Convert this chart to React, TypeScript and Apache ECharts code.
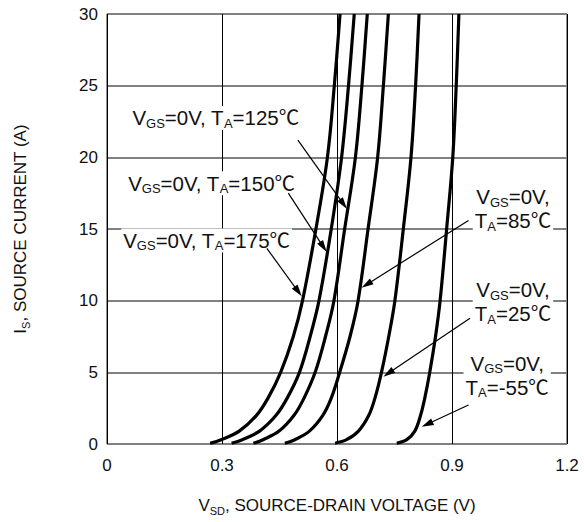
import React, { useEffect, useRef } from 'react';
import * as echarts from 'echarts';

// Source current levels (A) shared by all curves
const currentLevels = [0.05, 0.3, 0.9, 2, 3.2, 5, 7.5, 10, 15, 20, 25, 30];
// Source-drain voltage (V) for each temperature at the levels above
const v175 = [0.269, 0.298, 0.345, 0.39, 0.42, 0.453, 0.486, 0.51, 0.545, 0.575, 0.593, 0.608];
const v150 = [0.325, 0.353, 0.398, 0.441, 0.47, 0.502, 0.53, 0.553, 0.585, 0.612, 0.63, 0.645];
const v125 = [0.382, 0.407, 0.449, 0.488, 0.514, 0.543, 0.57, 0.592, 0.62, 0.648, 0.665, 0.679];
const v85 = [0.464, 0.49, 0.528, 0.563, 0.585, 0.607, 0.634, 0.655, 0.681, 0.706, 0.721, 0.734];
const v25 = [0.595, 0.625, 0.656, 0.683, 0.699, 0.716, 0.735, 0.751, 0.773, 0.793, 0.805, 0.814];
const vM55 = [0.756, 0.782, 0.803, 0.818, 0.829, 0.842, 0.857, 0.869, 0.886, 0.902, 0.911, 0.918];

const temps = ['175', '150', '125', '85', '25', '-55'];
const voltages = [v175, v150, v125, v85, v25, vM55];

// Annotation anchors in data coordinates
const leftLabelTemps = ['125', '150', '175'];
const leftLabelAnchors = [[0.061, 22.75], [0.05, 18.2], [0.037, 14.2]];
const rightLabelTemps = ['85', '25', '-55'];
const rightLabelAnchors = [[1.059, 16.4], [1.059, 9.94], [1.044, 4.78]];
const arrowStarts = [[0.498, 21.2], [0.473, 17.5], [0.417, 13.65], [0.943, 15.6], [0.947, 8.77], [0.943, 2.72]];
const arrowTips = [[0.626, 16.4], [0.573, 13.4], [0.508, 10.3], [0.664, 10.9], [0.721, 4.7], [0.821, 1.2]];

const xTicks = { min: 0, max: 1.2, interval: 0.3 };
const yTicks = { min: 0, max: 30, interval: 5 };

const FF = "'Liberation Sans', Arial, 'Noto Sans CJK JP', sans-serif";
const TXT = '#111';

const annRich = {
  n: { fontSize: 20.5, fontFamily: FF, fill: TXT, lineHeight: 24 },
  s: { fontSize: 13, fontFamily: FF, fill: TXT, lineHeight: 10, verticalAlign: 'bottom' },
};

export default function App() {
  const ref = useRef<HTMLDivElement>(null);
  useEffect(() => {
    document.body.style.margin = '0';
    if (!ref.current) return;
    const chart = echarts.init(ref.current, null, { renderer: 'svg' });
    const series = temps.map((t, i) => ({
      name: t,
      type: 'line',
      data: voltages[i].map((v, k) => [v, currentLevels[k]]),
      showSymbol: false,
      smooth: 0.35,
      lineStyle: { color: '#000', width: 3.2 },
      silent: true,
      z: 3,
    }));
    chart.setOption({
      animation: false,
      grid: { left: 107, right: 17, top: 14, bottom: 78, show: true, borderColor: '#222', borderWidth: 1 },
      xAxis: {
        type: 'value',
        ...xTicks,
        axisLine: { show: false },
        axisTick: { show: false },
        axisLabel: { fontSize: 17, fontFamily: FF, color: TXT, margin: 13 },
        splitLine: { show: true, lineStyle: { color: '#000', width: 1 } },
        name: '{n|V}{s|SD}{n|, SOURCE-DRAIN VOLTAGE (V)}',
        nameLocation: 'middle',
        nameGap: 50,
        nameTextStyle: {
          rich: {
            n: { fontSize: 17, fontFamily: FF, color: TXT, lineHeight: 22 },
            s: { fontSize: 11, fontFamily: FF, color: TXT, lineHeight: 8, verticalAlign: 'bottom' },
          },
        },
      },
      yAxis: {
        type: 'value',
        ...yTicks,
        axisLine: { show: false },
        axisTick: { show: false },
        axisLabel: { fontSize: 17, fontFamily: FF, color: TXT, margin: 9 },
        splitLine: { show: true, lineStyle: { color: '#808080', width: 2 } },
        name: '{n|I}{s|S}{n|, SOURCE CURRENT (A)}',
        nameLocation: 'middle',
        nameGap: 76,
        nameTextStyle: {
          rich: {
            n: { fontSize: 17, fontFamily: FF, color: TXT, lineHeight: 22 },
            s: { fontSize: 11, fontFamily: FF, color: TXT, lineHeight: 8, verticalAlign: 'bottom' },
          },
        },
      },
      series,
    });

    const px = (p: number[]) => chart.convertToPixel({ gridIndex: 0 }, p) as number[];
    const graphics: any[] = [];
    leftLabelTemps.forEach((t, i) => {
      const [x, y] = px(leftLabelAnchors[i]);
      graphics.push({
        type: 'text', x, y, z: 10,
        style: {
          text: `{n|V}{s|GS}{n|=0V, T}{s|A}{n|=${t}℃}`,
          rich: annRich, align: 'left', verticalAlign: 'middle',
          backgroundColor: '#fff', padding: [0, 2],
        },
      });
    });
    rightLabelTemps.forEach((t, i) => {
      const [x, y] = px(rightLabelAnchors[i]);
      graphics.push({
        type: 'text', x, y, z: 10,
        style: {
          text: `{n|V}{s|GS}{n|=0V,}\n{n|T}{s|A}{n|=${t}℃}`,
          rich: annRich, align: 'center', verticalAlign: 'middle',
          backgroundColor: '#fff', padding: [0, 2],
        },
      });
    });
    arrowStarts.forEach((s, i) => {
      const [x1, y1] = px(s);
      const [x2, y2] = px(arrowTips[i]);
      const dx = x2 - x1, dy = y2 - y1;
      const len = Math.hypot(dx, dy);
      const ux = dx / len, uy = dy / len;
      const L = 12, W = 3.5;
      const bx = x2 - ux * L, by = y2 - uy * L;
      graphics.push({
        type: 'line', z: 11,
        shape: { x1, y1, x2: bx + ux * 2, y2: by + uy * 2 },
        style: { stroke: '#000', lineWidth: 1.2 },
      });
      graphics.push({
        type: 'polygon', z: 11,
        shape: { points: [[x2, y2], [bx - uy * W, by + ux * W], [bx + uy * W, by - ux * W]] },
        style: { fill: '#000' },
      });
    });
    chart.setOption({ graphic: graphics });
    return () => chart.dispose();
  }, []);
  return <div ref={ref} style={{ width: 584, height: 522 }} />;
}
